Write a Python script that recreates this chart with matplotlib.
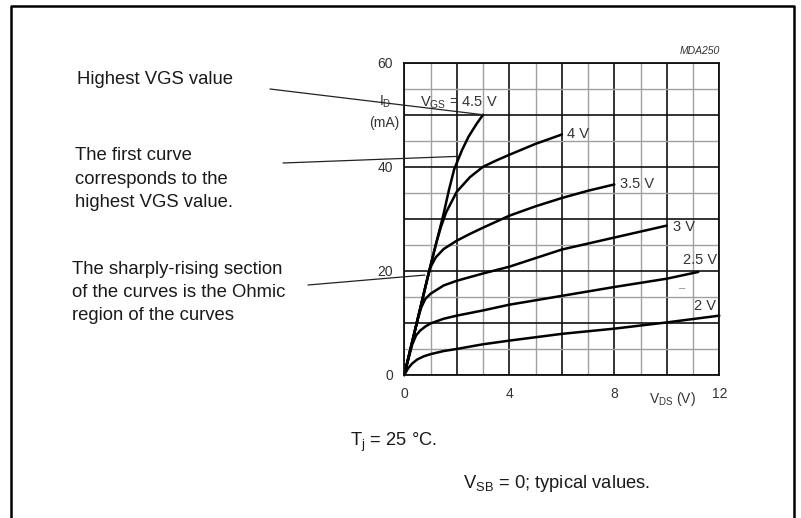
import numpy as np
import matplotlib.pyplot as plt
from matplotlib.lines import Line2D

plt.rcParams['font.family'] = ['Liberation Sans', 'DejaVu Sans']
plt.rcParams['mathtext.default'] = 'regular'

# output characteristics
vds_45 = [0, 0.5, 1.0, 1.3, 1.5, 1.7, 1.9, 2.2, 2.45, 2.75, 3.0]
id_45 = [0, 10.5, 21, 27, 31, 35.5, 39.5, 43.2, 45.8, 48.2, 50]

vds_4 = [0, 0.5, 1.0, 1.2, 1.4, 1.6, 2.0, 2.5, 3.0, 3.5, 4.0, 5.0, 6.0]
id_4 = [0, 10.5, 21, 25, 28.5, 31.3, 35.2, 38, 40, 41.2, 42.3, 44.4, 46.2]

vds_35 = [0, 0.5, 0.9, 1.0, 1.2, 1.5, 2.0, 2.5, 3.0, 4.0, 5.0, 6.0, 7.0, 8.0]
id_35 = [0, 10.5, 19, 20.7, 22.6, 24.2, 25.8, 27.1, 28.3, 30.6, 32.4, 34, 35.4, 36.6]

vds_3 = [0, 0.5, 0.65, 0.8, 1.0, 1.5, 2.0, 3.0, 4.0, 6.0, 8.0, 10.0]
id_3 = [0, 10.5, 13.0, 14.6, 15.6, 17.2, 18.1, 19.5, 20.8, 24.1, 26.4, 28.7]

vds_25 = [0, 0.3, 0.45, 0.6, 0.8, 1.0, 1.5, 2.0, 3.0, 4.0, 6.0, 8.0, 10.0, 11.2]
id_25 = [0, 5.8, 7.6, 8.5, 9.3, 9.9, 10.8, 11.4, 12.4, 13.5, 15.2, 16.9, 18.5, 19.8]

vds_2 = [0, 0.15, 0.3, 0.5, 0.75, 1.0, 1.5, 2.0, 3.0, 4.0, 6.0, 8.0, 10.0, 12.0]
id_2 = [0, 1.3, 2.2, 3.0, 3.6, 4.0, 4.6, 5.0, 5.9, 6.6, 7.9, 8.9, 10.1, 11.4]

curves = [(vds_45, id_45), (vds_4, id_4), (vds_35, id_35),
          (vds_3, id_3), (vds_25, id_25), (vds_2, id_2)]

curve_labels = ['4 V', '3.5 V', '3 V', '2.5 V', '2 V']
label_pos = [(6.2, 46.3), (8.2, 36.7), (10.25, 28.4), (10.6, 22.0), (11.05, 13.2)]

x_ticks = [0, 4, 8, 12]
y_ticks = [0, 20, 40, 60]

fig = plt.figure(figsize=(8.01, 5.18), dpi=100)
ax = fig.add_axes([0.5047, 0.2761, 0.3933, 0.6029])

ax.set_xlim(0, 12)
ax.set_ylim(0, 60)
ax.set_xticks(np.arange(0, 13, 2))
ax.set_xticks(np.arange(1, 12, 2), minor=True)
ax.set_yticks(np.arange(0, 61, 10))
ax.set_yticks(np.arange(5, 60, 10), minor=True)
ax.set_xticklabels([str(v) if v in x_ticks else '' for v in range(0, 13, 2)])
ax.set_yticklabels([str(v) if v in y_ticks else '' for v in range(0, 61, 10)])
ax.tick_params(which='both', length=0, labelsize=10, labelcolor='#333333')
ax.tick_params(axis='x', pad=9)
ax.tick_params(axis='y', pad=8)
ax.grid(which='major', color='#111111', lw=1.2)
ax.grid(which='minor', color='#a0a0a0', lw=1.0)
ax.set_axisbelow(True)
for s in ax.spines.values():
    s.set_linewidth(1.3)
    s.set_color('#111111')

for vx, iy in curves:
    ax.plot(vx, iy, color='black', lw=1.8, solid_capstyle='round',
            solid_joinstyle='round', clip_on=False)

ax.text(0.6, 52.3, 'V$_{GS}$ = 4.5 V', fontsize=10.5, color='#333333', va='center')
for lab, (lx, ly) in zip(curve_labels, label_pos):
    ax.text(lx, ly, lab, fontsize=10.5, color='#333333', va='center')
ax.text(10.45, 16.6, '\u2013', fontsize=8, color='#888888', va='center')

ax.text(-0.95, 52.5, 'I$_D$', fontsize=10, color='#333333', va='center', ha='left')
ax.text(-0.2, 48.4, '(mA)', fontsize=10, color='#333333', va='center', ha='right')
ax.text(10.2, -4.6, 'V$_{DS}$ (V)', fontsize=10, color='#333333', va='center', ha='center')
fig.text(720 / 801, 1 - 51 / 518, 'MDA250', fontsize=7.5, style='italic',
         color='#333333', ha='right', va='center')

# annotations on the left
notes = [
    ('Highest VGS value', 77, 84),
    ('The first curve', 75, 160),
    ('corresponds to the', 75, 183.5),
    ('highest VGS value.', 75, 207),
    ('The sharply-rising section', 72, 274),
    ('of the curves is the Ohmic', 72, 297),
    ('region of the curves', 72, 320),
]
for txt, px, py in notes:
    fig.text(px / 801, 1 - py / 518, txt, fontsize=13.3, color='#1a1a1a', va='baseline')

leaders = [((270, 89), (vds_45[-1], id_45[-1])),
           ((283, 163), (2.05, 42.0)),
           ((308, 285), (0.79, 19.2))]
for (px, py), target in leaders:
    ax.annotate('', xy=target, xycoords='data',
                xytext=(px / 801, 1 - py / 518), textcoords='figure fraction',
                arrowprops=dict(arrowstyle='-', lw=0.9, color='#222222',
                                shrinkA=0, shrinkB=0))

fig.text(350 / 801, 1 - 446 / 518, 'T$_j$ = 25 \u00b0C.', fontsize=13.2,
         color='#1a1a1a', va='baseline')
fig.text(463 / 801, 1 - 488 / 518, 'V$_{SB}$ = 0; typical values.', fontsize=13.2,
         color='#1a1a1a', va='baseline')

# page frame
frame_x = [11 / 801, 11 / 801, 794 / 801, 794 / 801]
frame_y = [0, 1 - 6 / 518, 1 - 6 / 518, 0]
fig.add_artist(Line2D(frame_x, frame_y, color='black', lw=1.8,
                      transform=fig.transFigure))

fig.savefig('out.png', dpi=100)
